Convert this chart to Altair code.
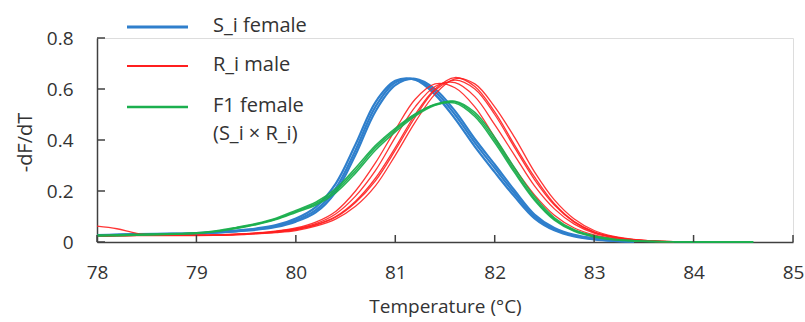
import altair as alt
import pandas as pd

# Temperature grid (°C)
temps = [78.0, 78.2, 78.4, 78.6, 78.8, 79.0, 79.2, 79.4, 79.6, 79.8,
         80.0, 80.2, 80.4, 80.6, 80.8, 81.0, 81.2, 81.4, 81.6, 81.8,
         82.0, 82.2, 82.4, 82.6, 82.8, 83.0, 83.2, 83.4, 83.6, 83.8,
         84.0, 84.2, 84.4, 84.6]

# S_i female (blue) replicates
s_i_rep1 = [0.025, 0.028, 0.030, 0.031, 0.032, 0.034, 0.038, 0.043, 0.050, 0.062,
            0.085, 0.125, 0.210, 0.360, 0.530, 0.625, 0.638, 0.590, 0.500, 0.390,
            0.290, 0.190, 0.100, 0.050, 0.025, 0.012, 0.005, 0.002]
s_i_rep2 = [0.027, 0.029, 0.031, 0.032, 0.033, 0.035, 0.039, 0.045, 0.053, 0.066,
            0.092, 0.137, 0.228, 0.382, 0.548, 0.632, 0.636, 0.578, 0.484, 0.374,
            0.274, 0.178, 0.093, 0.046, 0.022, 0.010, 0.004, 0.001]
s_i_rep3 = [0.024, 0.027, 0.029, 0.030, 0.031, 0.033, 0.037, 0.042, 0.048, 0.059,
            0.080, 0.116, 0.196, 0.342, 0.512, 0.615, 0.640, 0.600, 0.514, 0.404,
            0.304, 0.202, 0.108, 0.055, 0.028, 0.014, 0.006, 0.002]

# R_i male (red) replicates
r_i_rep1 = [0.062, 0.052, 0.034, 0.028, 0.026, 0.026, 0.028, 0.031, 0.036, 0.043,
            0.055, 0.078, 0.120, 0.200, 0.310, 0.440, 0.560, 0.620, 0.605, 0.530,
            0.410, 0.290, 0.185, 0.105, 0.055, 0.028, 0.014, 0.007, 0.003, 0.001]
r_i_rep2 = [0.025, 0.026, 0.027, 0.027, 0.027, 0.027, 0.028, 0.031, 0.035, 0.042,
            0.052, 0.072, 0.110, 0.180, 0.280, 0.410, 0.530, 0.610, 0.625, 0.570,
            0.460, 0.340, 0.220, 0.130, 0.070, 0.035, 0.017, 0.008, 0.003, 0.001]
r_i_rep3 = [0.024, 0.025, 0.026, 0.026, 0.026, 0.026, 0.027, 0.030, 0.034, 0.040,
            0.050, 0.068, 0.100, 0.160, 0.250, 0.370, 0.500, 0.600, 0.645, 0.610,
            0.510, 0.380, 0.255, 0.150, 0.080, 0.040, 0.020, 0.009, 0.004, 0.001]
r_i_rep4 = [0.023, 0.024, 0.025, 0.025, 0.025, 0.025, 0.026, 0.028, 0.032, 0.037,
            0.045, 0.062, 0.090, 0.140, 0.220, 0.340, 0.470, 0.580, 0.640, 0.620,
            0.530, 0.410, 0.275, 0.165, 0.090, 0.045, 0.022, 0.010, 0.004, 0.001]
r_i_rep5 = [0.024, 0.025, 0.026, 0.026, 0.026, 0.026, 0.027, 0.029, 0.033, 0.039,
            0.048, 0.066, 0.097, 0.155, 0.240, 0.360, 0.490, 0.595, 0.635, 0.600,
            0.500, 0.370, 0.245, 0.145, 0.078, 0.038, 0.019, 0.009, 0.003, 0.001]

# F1 female (S_i x R_i) (green) replicates
f1_rep1 = [0.025, 0.026, 0.028, 0.030, 0.032, 0.035, 0.042, 0.055, 0.070, 0.090,
           0.120, 0.150, 0.200, 0.280, 0.370, 0.440, 0.500, 0.540, 0.550, 0.500,
           0.400, 0.280, 0.170, 0.090, 0.045, 0.022, 0.010, 0.005, 0.002, 0.001,
           0.001, 0.000, 0.000, 0.000]
f1_rep2 = [0.027, 0.028, 0.030, 0.031, 0.033, 0.036, 0.044, 0.057, 0.072, 0.093,
           0.124, 0.156, 0.208, 0.290, 0.378, 0.446, 0.502, 0.538, 0.545, 0.492,
           0.390, 0.272, 0.164, 0.086, 0.042, 0.020, 0.009, 0.004, 0.002, 0.001,
           0.000, 0.000, 0.000, 0.000]
f1_rep3 = [0.024, 0.025, 0.027, 0.029, 0.031, 0.034, 0.041, 0.053, 0.068, 0.088,
           0.116, 0.145, 0.193, 0.270, 0.360, 0.432, 0.494, 0.536, 0.552, 0.508,
           0.410, 0.290, 0.178, 0.095, 0.048, 0.024, 0.011, 0.005, 0.002, 0.001,
           0.001, 0.000, 0.000, 0.000]

x_ticks = [78, 79, 80, 81, 82, 83, 84, 85]
y_ticks = [0, 0.2, 0.4, 0.6, 0.8]
legend_labels = ["S_i female", "R_i male", "F1 female", "(S_i × R_i)"]

FONT = "Open Sans"
TXT = "#333333"
AX = "#404040"
W, H = 696, 204


def frame(reps):
    rows = []
    for k, vals in enumerate(reps):
        for t, v in zip(temps, vals):
            rows.append({"T": t, "v": v, "rep": k})
    return pd.DataFrame(rows)


df_blue = frame([s_i_rep1, s_i_rep2, s_i_rep3])
df_red = frame([r_i_rep1, r_i_rep2, r_i_rep3, r_i_rep4, r_i_rep5])
df_green = frame([f1_rep1, f1_rep2, f1_rep3])

xs = alt.Scale(domain=[78, 85], nice=False, zero=False)
ys = alt.Scale(domain=[0, 0.8], nice=False)

x_enc = alt.X(
    "T:Q", scale=xs,
    axis=alt.Axis(
        values=x_ticks, format="d", grid=False, ticks=False, tickSize=0,
        domainColor=AX, domainWidth=1.5,
        labelFont=FONT, labelFontSize=19, labelColor=TXT,
        labelPadding=30, labelBaseline="middle", labelFlush=False,
        title="Temperature (°C)", titleFont=FONT, titleFontSize=19,
        titleFontWeight="normal", titleColor=TXT,
        titleY=64, titleBaseline="middle",
    ),
)
y_enc = alt.Y(
    "v:Q", scale=ys,
    axis=alt.Axis(
        values=y_ticks, format=".1~f", grid=False, ticks=False, tickSize=0,
        domainColor=AX, domainWidth=1.5,
        labelFont=FONT, labelFontSize=19, labelColor=TXT,
        labelPadding=24, labelFlush=False,
        title="-dF/dT", titleFont=FONT, titleFontSize=20,
        titleFontWeight="normal", titleColor=TXT,
        titleX=-72, titleY=104, titleBaseline="middle",
    ),
)

blue = alt.Chart(df_blue).mark_line(
    color="#2F7FCC", strokeWidth=2.2, interpolate="catmull-rom"
).encode(x=x_enc, y=y_enc, detail="rep:N")

red = alt.Chart(df_red).mark_line(
    color="#FF1F1F", strokeWidth=1.3, interpolate="catmull-rom", opacity=0.9
).encode(x="T:Q", y="v:Q", detail="rep:N")

green = alt.Chart(df_green).mark_line(
    color="#1BAF4E", strokeWidth=1.6, interpolate="catmull-rom", opacity=0.95
).encode(x="T:Q", y="v:Q", detail="rep:N")

# inward ticks
xt = alt.Chart(pd.DataFrame({"t": x_ticks})).mark_rule(
    color=AX, strokeWidth=1.5
).encode(x="t:Q", y=alt.value(H), y2=alt.value(H - 7))
yt = alt.Chart(pd.DataFrame({"t": y_ticks})).mark_rule(
    color=AX, strokeWidth=1.5
).encode(y="t:Q", x=alt.value(0), x2=alt.value(8))

one = pd.DataFrame({"k": [0]})
leg_colors = ["#2F7FCC", "#FF1F1F", "#1BAF4E"]
leg_widths = [3, 2, 2.5]
leg_line_y = [-11, 28, 69]
leg_text_y = [-12, 27, 68, 96]

layers = [blue, red, green, xt, yt]
for c, w, yy in zip(leg_colors, leg_widths, leg_line_y):
    layers.append(
        alt.Chart(one).mark_rule(color=c, strokeWidth=w).encode(
            x=alt.value(30), x2=alt.value(91), y=alt.value(yy)
        )
    )
for lab, yy in zip(legend_labels, leg_text_y):
    layers.append(
        alt.Chart(one).mark_text(
            align="left", baseline="middle", font=FONT, fontSize=20, color=TXT
        ).encode(x=alt.value(116), y=alt.value(yy), text=alt.value(lab))
    )

chart = alt.layer(*layers).properties(
    width=W, height=H,
    autosize=alt.AutoSizeParams(type="none"),
    padding={"left": 97, "top": 38, "right": 12, "bottom": 80},
).configure_view(stroke=None).configure(background="white")

chart.save("out.html", embed_options={"renderer": "svg", "actions": False})
